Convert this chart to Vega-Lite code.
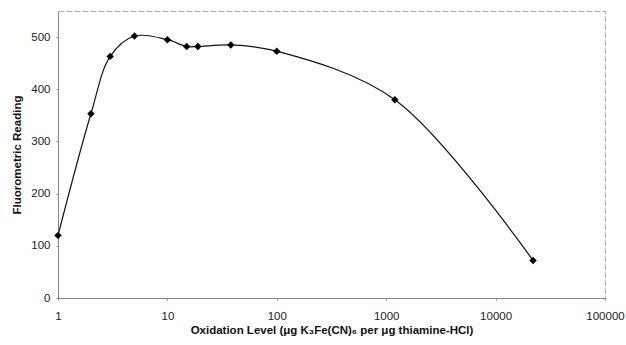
{
  "$schema": "https://vega.github.io/schema/vega-lite/v6.json",
  "width": 547,
  "height": 287,
  "autosize": {"type": "none"},
  "padding": {"left": 58, "top": 11, "right": 21, "bottom": 47},
  "background": "white",
  "data": {"values": [
    {"x": 1, "y": 120},
    {"x": 2, "y": 353},
    {"x": 3, "y": 463},
    {"x": 5, "y": 502},
    {"x": 10, "y": 495},
    {"x": 15, "y": 482},
    {"x": 19, "y": 482},
    {"x": 38, "y": 485},
    {"x": 100, "y": 473},
    {"x": 1200, "y": 380},
    {"x": 22000, "y": 72}
  ]},
  "config": {
    "view": {"stroke": "#aaaaaa", "strokeDash": [6, 2], "strokeWidth": 1},
    "font": "Liberation Sans",
    "axis": {
      "grid": false,
      "domainColor": "#888888",
      "tickColor": "#888888",
      "tickSize": 2,
      "labelFont": "Liberation Sans",
      "labelFontSize": 11.5,
      "labelColor": "#222222",
      "titleFont": "Liberation Sans",
      "titleFontSize": 11.5,
      "titleFontWeight": "bold",
      "titleColor": "#111111"
    }
  },
  "encoding": {
    "x": {
      "field": "x", "type": "quantitative",
      "scale": {"type": "log", "domain": [1, 100000]},
      "axis": {
        "values": [1, 10, 100, 1000, 10000, 100000],
        "format": "d",
        "labelPadding": 10,
        "labelFlush": false,
        "titlePadding": 3,
        "title": "Oxidation Level (μg K₃Fe(CN)₆ per μg thiamine-HCl)"
      }
    },
    "y": {
      "field": "y", "type": "quantitative",
      "scale": {"domain": [0, 550], "nice": false},
      "axis": {
        "values": [0, 100, 200, 300, 400, 500],
        "labelPadding": 6,
        "titlePadding": 8,
        "title": "Fluorometric Reading"
      }
    }
  },
  "layer": [
    {"mark": {"type": "line", "interpolate": "catmull-rom", "color": "#111111", "strokeWidth": 1.2}},
    {"mark": {"type": "point", "shape": "diamond", "filled": true, "color": "#000000", "size": 55, "opacity": 1}}
  ]
}
